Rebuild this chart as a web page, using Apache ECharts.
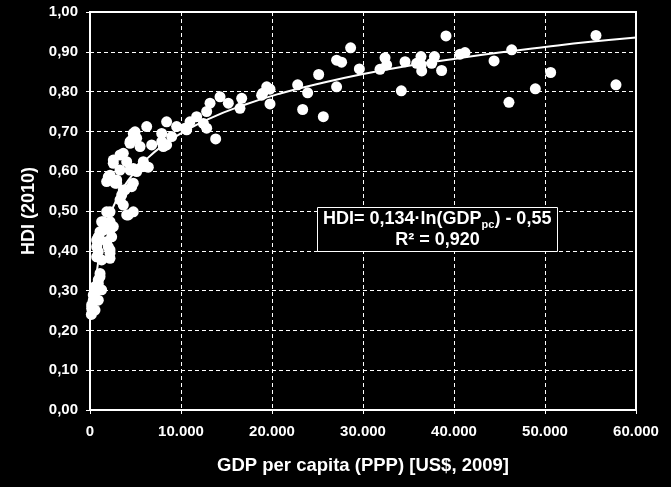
<!DOCTYPE html>
<html>
<head>
<meta charset="utf-8">
<script src="https://cdn.jsdelivr.net/npm/echarts@6/dist/echarts.min.js"></script>
<style>
html,body{margin:0;padding:0;background:#000;}
#c{width:671px;height:487px;}
</style>
</head>
<body>
<div id="c"></div>
<script>
// GDP per capita (PPP, US$ 2009) for each country
const gdp = [150,180,550,180,360,910,360,550,1280,550,910,910,1100,1100,730,1280,2200,910,2200,2200,730,2010,1830,730,910,2380,1100,2200,1460,2200,2560,1460,1280,2200,1830,2200,4210,4760,4030,3300,3660,3480,3850,3660,4580,2930,4760,2750,1830,2930,2010,2200,3300,4400,5130,4760,2560,2560,4030,5680,6230,6410,5860,3300,3660,4400,5500,4400,4580,5130,4760,4950,6780,8060,8420,7880,8980,7880,6230,9520,8420,10440,10620,10990,11720,12460,12820,12820,13810,13190,14290,15200,16480,16670,18860,18980,19420,19780,19780,22820,23920,23370,25130,25640,27100,27650,28640,27100,29600,31870,32420,32600,34210,34620,35900,36370,36450,36400,37550,37850,38640,39120,40660,41210,44400,46040,46340,48940,50620,55600,57800];
// HDI 2010 for each country
const hdi = [0.240,0.255,0.251,0.264,0.276,0.276,0.289,0.295,0.302,0.310,0.318,0.327,0.335,0.343,0.385,0.377,0.381,0.398,0.394,0.402,0.410,0.410,0.423,0.427,0.435,0.435,0.448,0.452,0.452,0.461,0.461,0.473,0.473,0.473,0.498,0.498,0.490,0.498,0.490,0.528,0.515,0.540,0.553,0.553,0.561,0.570,0.570,0.570,0.574,0.578,0.586,0.590,0.603,0.603,0.599,0.607,0.620,0.628,0.624,0.611,0.611,0.610,0.624,0.641,0.645,0.670,0.662,0.674,0.678,0.683,0.695,0.699,0.666,0.662,0.666,0.674,0.687,0.695,0.712,0.712,0.724,0.708,0.704,0.724,0.737,0.720,0.708,0.750,0.681,0.771,0.787,0.771,0.758,0.783,0.791,0.796,0.812,0.806,0.769,0.817,0.797,0.755,0.843,0.737,0.879,0.874,0.910,0.812,0.857,0.856,0.885,0.867,0.802,0.875,0.871,0.888,0.852,0.868,0.871,0.888,0.853,0.940,0.894,0.898,0.877,0.773,0.905,0.807,0.848,0.941,0.817];
// Logarithmic trend line
const trendX = [350,500,900,1500,2500,3700,5000,6200,8000,10000,13000,17000,21000,25000,30000,35000,40000,45000,50000,55000,60000];
const trendY = [0.245,0.293,0.372,0.440,0.508,0.560,0.600,0.630,0.665,0.695,0.731,0.767,0.796,0.819,0.844,0.865,0.882,0.898,0.912,0.925,0.936];
const equationLine1 = ['HDI= 0,134·ln(GDP', 'pc', ') - 0,55'];
const equationLine2 = 'R² = 0,920';
const xName = 'GDP per capita (PPP) [US$, 2009]';
const yName = 'HDI (2010)';

const FONT = '"Liberation Sans", Arial, sans-serif';
const chart = echarts.init(document.getElementById('c'));
const points = gdp.map((g, i) => [g, hdi[i]]);
const trend = trendX.map((x, i) => [x, trendY[i]]);

chart.setOption({
  backgroundColor: '#000',
  animation: false,
  title: {
    left: 317, top: 206,
    padding: [3, 6, 3, 6],
    borderColor: '#fff', borderWidth: 1, backgroundColor: '#000',
    text: '{a|' + equationLine1[0] + '}{s|' + equationLine1[1] + '}{a|' + equationLine1[2] + '}\n{b|' + equationLine2 + '}',
    textStyle: {
      color: '#fff', fontFamily: FONT, fontWeight: 'bold', fontSize: 18,
      rich: {
        a: { color: '#fff', fontFamily: FONT, fontWeight: 'bold', fontSize: 18, lineHeight: 21, verticalAlign: 'middle' },
        s: { color: '#fff', fontFamily: FONT, fontWeight: 'bold', fontSize: 11, lineHeight: 21, verticalAlign: 'bottom' },
        b: { color: '#fff', fontFamily: FONT, fontWeight: 'bold', fontSize: 18, lineHeight: 20, align: 'center', width: 229 }
      }
    }
  },
  grid: {
    left: 90, right: 35, top: 12, bottom: 77,
    show: true, borderColor: '#fff', borderWidth: 2, backgroundColor: '#000'
  },
  xAxis: {
    type: 'value', min: 0, max: 60000, interval: 10000,
    name: xName, nameLocation: 'middle', nameGap: 46,
    nameTextStyle: { color: '#fff', fontFamily: FONT, fontWeight: 'bold', fontSize: 18.5 },
    axisLine: { lineStyle: { color: '#fff', width: 2 } },
    axisTick: { show: true, length: 4, lineStyle: { color: '#fff', width: 1 } },
    axisLabel: {
      color: '#fff', fontFamily: FONT, fontWeight: 'bold', fontSize: 15, margin: 14,
      formatter: v => v === 0 ? '0' : String(v).replace(/\B(?=(\d{3})+(?!\d))/g, '.')
    },
    splitLine: { show: true, lineStyle: { color: '#fff', type: [4, 3], width: 1 } }
  },
  yAxis: {
    type: 'value', min: 0, max: 1, interval: 0.1,
    name: yName, nameLocation: 'middle', nameGap: 43,
    nameTextStyle: { color: '#fff', fontFamily: FONT, fontWeight: 'bold', fontSize: 18 },
    axisLine: { show: true, lineStyle: { color: '#fff', width: 2 } },
    axisTick: { show: true, length: 4, lineStyle: { color: '#fff', width: 1 } },
    axisLabel: {
      color: '#fff', fontFamily: FONT, fontWeight: 'bold', fontSize: 15, margin: 12,
      formatter: v => v.toFixed(2).replace('.', ',')
    },
    splitLine: { show: true, lineStyle: { color: '#fff', type: [4, 3], width: 1 } }
  },
  series: [
    {
      type: 'scatter', data: points, symbol: 'circle', symbolSize: 11,
      itemStyle: { color: '#fff', opacity: 1 }, z: 2
    },
    {
      type: 'line', data: trend, smooth: true, showSymbol: false, symbol: 'none',
      lineStyle: { color: '#fff', width: 2 }, z: 3
    }
  ]
});
</script>
</body>
</html>
